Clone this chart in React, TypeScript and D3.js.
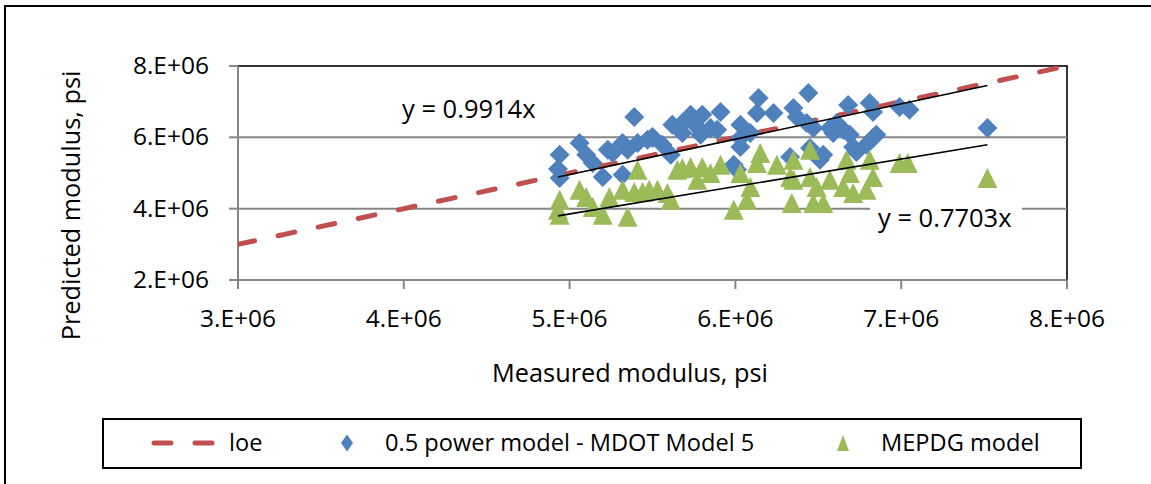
import React from "react";
import * as d3 from "d3";

// Measured modulus (psi) and predicted modulus (psi) for each model
const mdotMeasured = [
  4.94e6, 4.93e6, 4.94e6, 5.39e6, 5.06e6, 5.1e6, 5.14e6, 5.23e6, 5.26e6, 5.32e6,
  5.35e6, 5.2e6, 5.32e6, 5.41e6, 5.47e6, 5.5e6, 6.14e6, 5.91e6, 5.73e6, 5.8e6,
  5.68e6, 5.62e6, 5.77e6, 5.85e6, 5.89e6, 6.03e6, 6.13e6, 6.23e6, 6.35e6, 6.37e6,
  5.5e6, 5.56e6, 5.61e6, 5.79e6, 6.03e6, 6.03e6, 5.99e6, 6.33e6, 6.09e6, 5.68e6,
  6.44e6, 6.47e6, 6.57e6, 6.61e6, 6.68e6, 6.65e6, 6.69e6, 6.81e6, 6.83e6, 6.99e6,
  7.05e6, 6.59e6, 6.83e6, 6.79e6, 6.71e6, 6.53e6, 6.51e6, 6.45e6, 6.85e6, 6.73e6,
  6.43e6, 7.52e6, 6.01e6,
];
const mdotPredicted = [
  5.51e6, 5.11e6, 4.86e6, 6.57e6, 5.84e6, 5.51e6, 5.28e6, 5.65e6, 5.56e6, 5.84e6,
  5.65e6, 4.89e6, 4.95e6, 5.84e6, 5.93e6, 6.01e6, 7.1e6, 6.71e6, 6.63e6, 6.63e6,
  6.4e6, 6.35e6, 6.29e6, 6.26e6, 6.21e6, 6.35e6, 6.68e6, 6.68e6, 6.82e6, 6.57e6,
  5.98e6, 5.79e6, 5.51e6, 6.07e6, 5.98e6, 5.73e6, 5.23e6, 5.45e6, 6.12e6, 6.12e6,
  7.24e6, 6.26e6, 6.26e6, 6.4e6, 6.91e6, 6.21e6, 6.07e6, 6.96e6, 6.71e6, 6.85e6,
  6.77e6, 6.12e6, 5.98e6, 5.79e6, 5.73e6, 5.51e6, 5.37e6, 5.7e6, 6.07e6, 5.59e6,
  6.4e6, 6.26e6, 5.09e6,
];
const mepdgMeasured = [
  4.94e6, 4.93e6, 4.94e6, 5.06e6, 5.1e6, 5.14e6, 5.2e6, 5.24e6, 5.32e6, 5.35e6,
  5.41e6, 5.39e6, 5.44e6, 5.48e6, 5.65e6, 5.68e6, 5.73e6, 5.8e6, 5.91e6, 5.85e6,
  5.77e6, 5.53e6, 5.59e6, 5.61e6, 6.15e6, 6.13e6, 6.25e6, 6.03e6, 6.09e6, 6.07e6,
  5.99e6, 6.35e6, 6.33e6, 6.34e6, 6.45e6, 6.35e6, 6.45e6, 6.49e6, 6.47e6, 6.53e6,
  6.57e6, 6.67e6, 6.69e6, 6.65e6, 6.71e6, 6.81e6, 6.83e6, 6.79e6, 6.99e6, 7.04e6,
  7.52e6,
];
const mepdgPredicted = [
  4.25e6, 3.97e6, 3.83e6, 4.53e6, 4.33e6, 4.05e6, 3.83e6, 4.33e6, 4.53e6, 3.77e6,
  5.09e6, 4.47e6, 4.47e6, 4.53e6, 5.09e6, 5.14e6, 5.17e6, 5.17e6, 5.23e6, 5.0e6,
  4.81e6, 4.53e6, 4.44e6, 4.25e6, 5.56e6, 5.28e6, 5.23e6, 5.0e6, 4.61e6, 4.25e6,
  3.97e6, 5.37e6, 4.89e6, 4.16e6, 5.65e6, 4.81e6, 4.89e6, 4.61e6, 4.16e6, 4.16e6,
  4.81e6, 5.37e6, 5.0e6, 4.61e6, 4.44e6, 5.37e6, 4.89e6, 4.53e6, 5.28e6, 5.28e6,
  4.86e6,
];

// Line of equality and fitted slopes (trend lines through the origin)
const loeRange = [3e6, 8e6];
const mdotSlope = 0.9914;
const mepdgSlope = 0.7703;

const xTicks = [3e6, 4e6, 5e6, 6e6, 7e6, 8e6];
const yTicks = [2e6, 4e6, 6e6, 8e6];

const legendLabels = ["loe", "0.5 power model - MDOT Model 5", "MEPDG model"];
const xTitle = "Measured modulus, psi";
const yTitle = "Predicted modulus, psi";

const BLUE = "#4F81BD";
const GREEN = "#9BBB59";
const RED = "#C0504D";
const GRID = "#868686";
const FONT = "'Open Sans', sans-serif";

const fmt = (v: number) => `${Math.round(v / 1e6)}.E+06`;

const diamond = (r: number, ry = r) => `M0,${-ry}L${r},0L0,${ry}L${-r},0Z`;
const triangle = (w: number, h: number) =>
  `M0,${-h / 2}L${w / 2},${h / 2}L${-w / 2},${h / 2}Z`;

export default function App() {
  const W = 1151;
  const H = 484;
  const x = d3.scaleLinear().domain([3e6, 8e6]).range([238, 1067]);
  const y = d3.scaleLinear().domain([2e6, 8e6]).range([280, 66]);
  const [x0, x1] = x.range();
  const [y0, y1] = y.range();

  const lineGen = d3
    .line<[number, number]>()
    .x((d) => x(d[0]))
    .y((d) => y(d[1]));

  const trend = (xs: number[], slope: number) => {
    const lo = d3.min(xs) as number;
    const hi = d3.max(xs) as number;
    return lineGen([
      [lo, lo * slope],
      [hi, hi * slope],
    ] as [number, number][]);
  };

  const loePath = lineGen(loeRange.map((v) => [v, v]) as [number, number][]);

  return (
    <div style={{ position: "absolute", left: 0, top: 0 }}>
      <svg width={W} height={H} style={{ display: "block", background: "#fff" }}>
        <defs>
          <clipPath id="plotClip">
            <rect x={x0} y={y1} width={x1 - x0} height={y0 - y1} />
          </clipPath>
        </defs>
        {/* chart frame */}
        <rect x={5} y={6} width={W + 20} height={H + 20} fill="#fff" stroke="#000" strokeWidth={2} />

        {/* plot area border */}
        <rect x={x0} y={y1} width={x1 - x0} height={y0 - y1} fill="none" stroke="#000" strokeWidth={1.6} />

        {/* horizontal gridlines */}
        {yTicks
          .filter((t) => t !== 2e6 && t !== 8e6)
          .map((t) => (
            <line key={t} x1={x0} x2={x1} y1={y(t)} y2={y(t)} stroke={GRID} strokeWidth={2} />
          ))}

        {/* axes */}
        <line x1={x0} x2={x1} y1={y0} y2={y0} stroke={GRID} strokeWidth={2} />
        <line x1={x0} x2={x0} y1={y1} y2={y0} stroke={GRID} strokeWidth={2} />
        {yTicks.map((t) => (
          <g key={t}>
            <line x1={x0 - 9} x2={x0} y1={y(t)} y2={y(t)} stroke={GRID} strokeWidth={2} />
            <text x={209} y={y(t) + 8} textAnchor="end" fontFamily={FONT} fontSize={24.5} fill="#000">
              {fmt(t)}
            </text>
          </g>
        ))}
        {xTicks.map((t) => (
          <g key={t}>
            <line x1={x(t)} x2={x(t)} y1={y0} y2={y0 + 9} stroke={GRID} strokeWidth={2} />
            <text x={x(t)} y={327} textAnchor="middle" fontFamily={FONT} fontSize={24.5} fill="#000">
              {fmt(t)}
            </text>
          </g>
        ))}

        {/* axis titles */}
        <text x={630} y={382} textAnchor="middle" fontFamily={FONT} fontSize={25.3} fill="#000">
          {xTitle}
        </text>
        <text
          transform="translate(79.5,205.5) rotate(-90)"
          textAnchor="middle"
          fontFamily={FONT}
          fontSize={25.3}
          fill="#000"
        >
          {yTitle}
        </text>

        {/* line of equality */}
        <g clipPath="url(#plotClip)">
          <path
            d={loePath ?? ""}
            fill="none"
            stroke={RED}
            strokeWidth={5}
            strokeDasharray="17 24"
            strokeLinecap="round"
          />
        </g>

        {/* MDOT Model 5 points */}
        {mdotMeasured.map((m, i) => (
          <path key={`b${i}`} d={diamond(10)} transform={`translate(${x(m)},${y(mdotPredicted[i])})`} fill={BLUE} />
        ))}

        {/* MEPDG points */}
        {mepdgMeasured.map((m, i) => (
          <path key={`g${i}`} d={triangle(20, 20)} transform={`translate(${x(m)},${y(mepdgPredicted[i])})`} fill={GREEN} />
        ))}

        {/* fitted trend lines */}
        <path d={trend(mdotMeasured, mdotSlope) ?? ""} stroke="#000" strokeWidth={1.6} fill="none" />
        <path d={trend(mepdgMeasured, mepdgSlope) ?? ""} stroke="#000" strokeWidth={1.6} fill="none" />

        {/* trend line equations */}
        <text x={402} y={118} fontFamily={FONT} fontSize={25.5} fill="#000">
          {`y = ${mdotSlope}x`}
        </text>
        <rect x={870} y={200} width={152} height={34} fill="#fff" />
        <text x={878} y={227} fontFamily={FONT} fontSize={25.5} fill="#000">
          {`y = ${mepdgSlope}x`}
        </text>

        {/* legend */}
        <rect x={103} y={419} width={978} height={49} fill="#fff" stroke="#000" strokeWidth={2} />
        <line x1={154} x2={212} y1={443} y2={443} stroke={RED} strokeWidth={5} strokeDasharray="17 24" strokeLinecap="round" />
        <text x={229} y={451} fontFamily={FONT} fontSize={23.6} fill="#000">
          {legendLabels[0]}
        </text>
        <path d={diamond(6, 8.5)} transform="translate(347,443)" fill={BLUE} />
        <text x={385} y={451} fontFamily={FONT} fontSize={23.6} fill="#000">
          {legendLabels[1]}
        </text>
        <path d={triangle(12, 16)} transform="translate(843,443)" fill={GREEN} />
        <text x={881} y={451} fontFamily={FONT} fontSize={23.6} fill="#000">
          {legendLabels[2]}
        </text>
      </svg>
    </div>
  );
}
